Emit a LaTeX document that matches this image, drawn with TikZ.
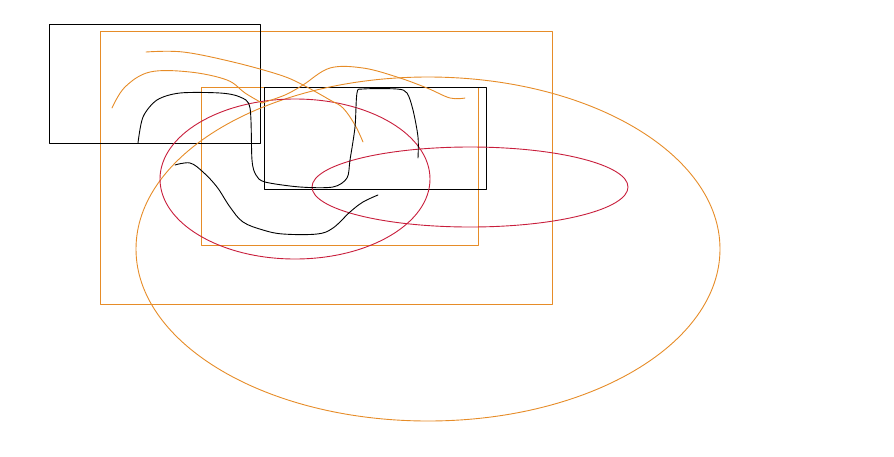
\documentclass[tikz,border=0pt]{standalone}
\usepackage{tikz}

\definecolor{sketchorange}{RGB}{230,140,40}
\definecolor{sketchred}{RGB}{200,30,60}

\begin{document}
\begin{tikzpicture}[
		x=1pt, y=-1pt,
		pen/.style={line width=0.9pt, line join=round, line cap=round},
		orangepen/.style={pen, draw=sketchorange},
		redpen/.style={pen, draw=sketchred},
		blackpen/.style={pen, draw=black}
	]
  \useasboundingbox (0,0) rectangle (894,456);
  % frames
  \draw [orangepen] (100,31) rectangle (552,304);
  \draw [orangepen] (201,87) rectangle (478,245);
  \draw [blackpen] (49,24) rectangle (260,143);
  \draw [blackpen] (264,87) rectangle (486,189);
  % ellipses
  \draw [orangepen] (428,249) ellipse [x radius=292, y radius=172];
  \draw [redpen] (295,179) ellipse [x radius=135, y radius=80];
  \draw [redpen] (470,187) ellipse [x radius=158, y radius=40];
  % orange strokes
  \draw [orangepen] plot [smooth, tension=0.6] coordinates {(146,52) (183,52) (233,62) (280,75) (303,85) (330,100) (343,108) (355,125) (363,142)};
  \draw [orangepen] plot [smooth, tension=0.6] coordinates {(112,108) (125,87) (150,72) (190,72) (227,80) (245,93) (262,103)};
  \draw [orangepen] plot [smooth, tension=0.6] coordinates {(262,103) (285,95) (303,85) (330,68) (363,68) (397,77) (427,88) (450,98) (465,98)};
  % black strokes
  \draw [blackpen] plot [smooth, tension=0.5] coordinates {(138,143) (143,117) (157,100) (180,93) (220,93) (240,97) (250,108) (252,160) (256,175) (265,182) (300,187) (333,187) (347,178) (350,160) (355,127) (357,93) (363,89) (397,89) (407,93) (413,110) (418,137) (418,158)};
  \draw [blackpen] plot [smooth, tension=0.6] coordinates {(175,165) (190,163) (203,172) (217,187) (230,207) (243,222) (263,230) (283,234) (317,234) (333,228) (350,212) (363,202) (378,195)};
\end{tikzpicture}
\end{document}
